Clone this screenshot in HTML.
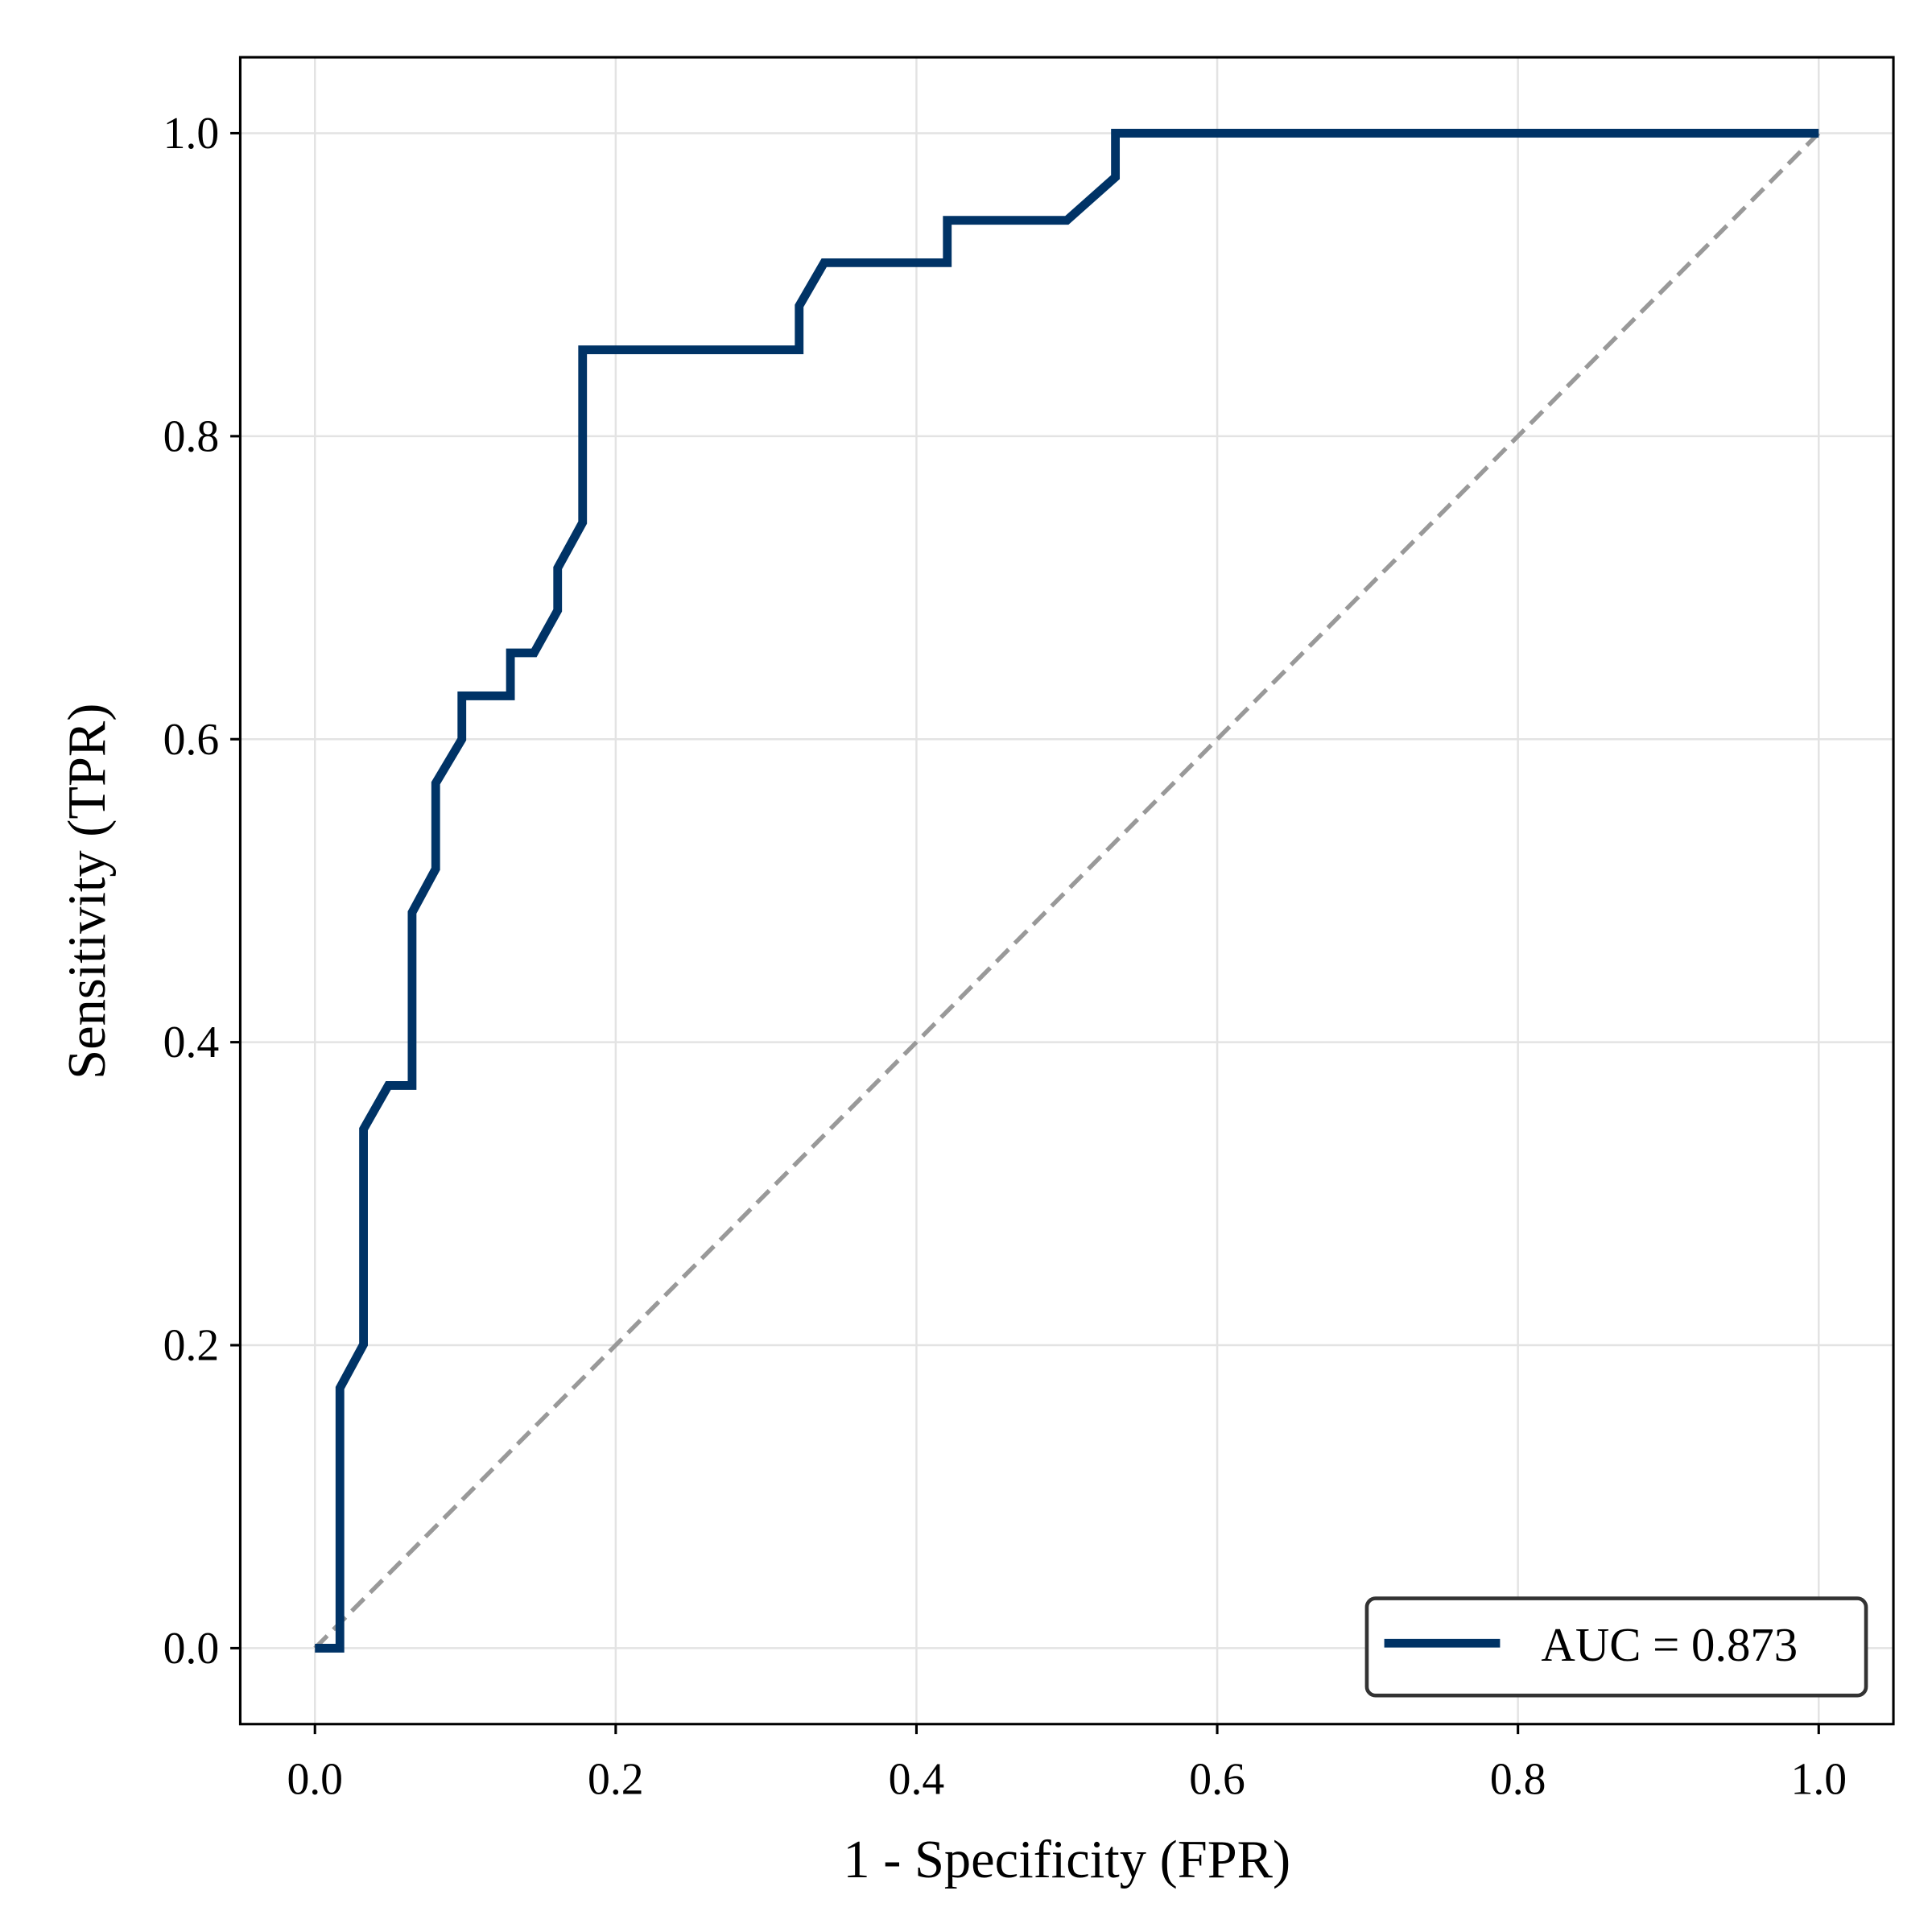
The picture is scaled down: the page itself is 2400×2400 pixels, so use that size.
<!DOCTYPE html>
<html><head><meta charset="utf-8"><style>
html,body{margin:0;padding:0;background:#fff;}
svg{display:block;}
text{font-family:"Liberation Serif",serif;fill:#000;}
</style></head><body>
<svg id="chart" width="2400" height="2400" viewBox="0 0 1552 1552" xmlns="http://www.w3.org/2000/svg">
<rect x="0" y="0" width="1552" height="1552" fill="#fff"/>
<g id="grid"></g>
<g id="diag"></g>
<g id="series"></g>
<rect x="193" y="46" width="1328" height="1339" fill="none" stroke="#000" stroke-width="2"/>
<g id="ticks"></g>
<text x="857" y="1508" font-size="43" text-anchor="middle">1 - Specificity (FPR)</text>
<text transform="translate(84,716) rotate(-90)" font-size="43" text-anchor="middle">Sensitivity (TPR)</text>
<g>
<rect x="1098" y="1284" width="401" height="78" rx="7" fill="#fff" stroke="#333" stroke-width="3"/>
<line x1="1112" y1="1320" x2="1205" y2="1320" stroke="#003366" stroke-width="7"/>
<text x="1238" y="1334" font-size="38">AUC = 0.873</text>
</g>
</svg>
<script>
const fprValues = [0,0.0166,0.0166,0.0323,0.0323,0.0488,0.0646,0.0646,0.0803,0.0803,0.0977,0.0977,0.13,0.13,0.1457,0.1614,0.1614,0.178,0.178,0.322,0.322,0.3386,0.4205,0.4205,0.5,0.5323,0.5323,1];
const tprValues = [0,0,0.1717,0.2005,0.3426,0.3714,0.3714,0.4856,0.5144,0.571,0.6,0.6286,0.6286,0.657,0.657,0.685,0.713,0.743,0.857,0.857,0.886,0.9145,0.9145,0.9425,0.9425,0.971,1,1];
const xTicks = [0,0.2,0.4,0.6,0.8,1.0];
const yTicks = [0,0.2,0.4,0.6,0.8,1.0];
const tickLabels = ["0.0","0.2","0.4","0.6","0.8","1.0"];

const NS="http://www.w3.org/2000/svg";
function sx(v){return 253+v*1208;}
function sy(v){return 1324-v*1217;}
function mk(tag,attrs,parent){const e=document.createElementNS(NS,tag);for(const k in attrs)e.setAttribute(k,attrs[k]);parent.appendChild(e);return e;}
const grid=document.getElementById('grid'),ticks=document.getElementById('ticks');
xTicks.forEach((v,i)=>{
  const g=mk('line',{x1:sx(v),x2:sx(v),y1:46,y2:1385,stroke:'#e3e3e3','stroke-width':1.6},grid);
  
  
  const t=mk('line',{x1:sx(v),x2:sx(v),y1:1385,y2:1393,stroke:'#000','stroke-width':2},ticks);
  
  
  const l=mk('text',{x:sx(v),y:1441,'font-size':36,'text-anchor':'middle'},ticks);
  l.textContent=tickLabels[i];
  
  
});
yTicks.forEach((v,i)=>{
  const g=mk('line',{x1:193,x2:1521,y1:sy(v),y2:sy(v),stroke:'#e3e3e3','stroke-width':1.6},grid);
  
  
  const t=mk('line',{x1:185,x2:193,y1:sy(v),y2:sy(v),stroke:'#000','stroke-width':2},ticks);
  
  
  const l=mk('text',{x:176,y:sy(v)+12,'font-size':36,'text-anchor':'end'},ticks);
  l.textContent=tickLabels[i];
  
  
});
const d=mk('line',{x1:sx(0),y1:sy(0),x2:sx(1),y2:sy(1),stroke:'#999','stroke-width':3.5,'stroke-dasharray':'14,7'},document.getElementById('diag'));


const pts=fprValues.map((x,i)=>sx(x)+','+sy(tprValues[i])).join(' ');
const p=mk('polyline',{points:pts,fill:'none',stroke:'#003366','stroke-width':7,'stroke-linejoin':'miter'},document.getElementById('series'));


</script>
</body></html>
